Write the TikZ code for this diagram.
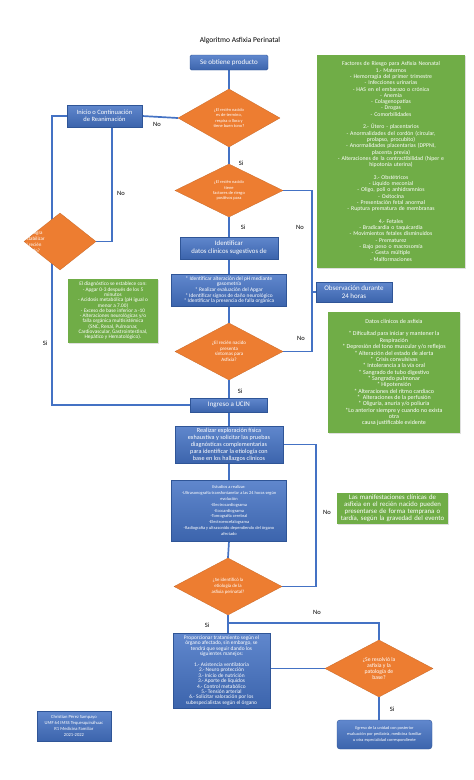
\documentclass[tikz,border=0pt]{standalone}
\usepackage{fontspec}
\setmainfont{Carlito}
\usetikzlibrary{positioning}
\usetikzlibrary{shapes.geometric}
\usetikzlibrary{backgrounds}
\usetikzlibrary{shadows}

\definecolor{azul}{RGB}{68,114,196}
\definecolor{azulosc}{RGB}{47,85,151}
\definecolor{naranja}{RGB}{237,125,49}
\definecolor{verde}{RGB}{112,173,71}
\newcommand{\fs}[2]{\fontsize{#1}{#2}\selectfont}

\begin{document}
\begin{tikzpicture}[
            x = 1pt,
            y = -1pt,
            caja/.style = {
                rectangle,
                draw = azulosc,
                line width = 0.4pt,
                top color = azul!85!white,
                bottom color = azul!88!black,
                text = white,
                align = center,
                inner sep = 1pt
            },
            rombo/.style = {
                diamond,
                fill = naranja,
                draw = naranja!85!black,
                line width = 0.3pt,
                text = white,
                align = center,
                inner sep = 0pt,
                aspect = 1.9
            },
            verdecaja/.style = {
                rectangle,
                fill = verde,
                text = white,
                align = center,
                inner sep = 1pt,
                drop shadow = {opacity = 0.25, shadow xshift = 1pt, shadow yshift = -1pt}
            },
            linea/.style = {
                draw = azul,
                line width = 1.7pt
            },
            etiqueta/.style = {
                font = \fs{6.5}{7},
                inner sep = 0pt
            }
            ]
            \useasboundingbox (0,0) rectangle (474,780);

            \node[font=\fs{7.5}{9}] (titulo) at (240,41) {Algoritmo Asfixia Perinatal};
            \node[caja, rounded corners=1.5pt, minimum width=78pt, minimum height=15pt, font=\fs{7}{8}] (producto) at (229,62.5) {Se obtiene producto};

            % columna central
            \node[rombo, minimum width=102pt, minimum height=58pt, font=\fs{4.4}{5.3}] (rombo1) at (229,118) {¿El recién nacido\\es de termino,\\respira o llora y\\tiene buen tono?};
            \node[rombo, minimum width=108pt, minimum height=53pt, font=\fs{4.4}{5.3}] (rombo2) at (229,190.5) {¿El recién nacido\\tiene\\factores de riesgo\\positivos para};
            \node[caja, minimum width=98pt, minimum height=22pt, font=\fs{6.8}{7.7}] (ident) at (229,248) {Identificar\\datos clínicos sugestivos de};
            \node[caja, minimum width=115pt, minimum height=32pt, font=\fs{5.4}{5.7}] (ph) at (229,290) {* Identificar alteración del pH mediante\\gasometría\\* Realizar evaluación del Apgar\\* Identificar signos de daño neurológico\\* Identificar la presencia de falla orgánica};
            \node[rombo, minimum width=108pt, minimum height=57pt, font=\fs{5}{5.5}] (rombo3) at (229,351.5) {¿El recién nacido\\presenta\\síntomas para\\Asfixia?};
            \node[caja, minimum width=77pt, minimum height=14pt, font=\fs{7}{8}] (ingreso) at (229,405) {Ingreso a UCIN};
            \node[caja, minimum width=108pt, minimum height=37pt, font=\fs{6.2}{7}] (realizar) at (229,444.5) {Realizar exploración física\\exhaustiva y solicitar las pruebas\\diagnósticas complementarias\\para identificar la etiología con\\base en los hallazgos clínicos};
            \node[caja, minimum width=115pt, minimum height=61pt, font=\fs{4.4}{5.8}] (estudios) at (229,510.5) {Estudios a realizar:\\-Ultrasonografía transfontanelar a las 24 horas según\\evolución\\-Electrocardiograma\\-Ecocardiograma\\-Tomografía cerebral\\-Electroencefalograma\\-Radiografía y ultrasonido dependiendo del órgano\\afectado};
            \node[rombo, minimum width=108pt, minimum height=57pt, font=\fs{4.8}{6}] (rombo4) at (228,586.5) {¿Se identificó la\\etiología de la\\asfixia perinatal?};
            \node[caja, minimum width=97pt, minimum height=75pt, font=\fs{5.4}{5.4}] (trat) at (221.5,670.5) {Proporcionar tratamiento según el\\órgano afectado, sin embargo, se\\tendrá que seguir dando los\\siguientes manejos:\\[5.4pt]1.- Asistencia ventilatoria\\2.- Neuro protección\\3.- Inicio de nutrición\\3.- Aporte de líquidos\\4.- Control metabólico\\5.- Tensión arterial\\6.- Solicitar valoración por los\\subespecialistas según el órgano};
            \node[rombo, minimum width=108pt, minimum height=57pt, font=\fs{5.7}{6.3}] (rombo5) at (379,668.5) {¿Se resolvió la\\asfixia y la\\patología de\\base?};
            \node[caja, rounded corners=3pt, minimum width=95pt, minimum height=29pt, font=\fs{4.3}{6.3}] (egreso) at (384.5,734.5) {Egreso de la unidad con posterior\\evaluación por pediatría, medicina familiar\\u otra especialidad correspondiente};

            % lado izquierdo
            \node[caja, minimum width=75pt, minimum height=22pt, font=\fs{6.5}{7.3}] (inicio) at (104.5,116) {Inicio o Continuación\\de Reanimación};
            \node[rombo, aspect=1.23, minimum width=72pt, minimum height=57pt] (rombo0) at (60,241.5) {};
            \node[anchor=west, align=left, text=white, font=\fs{5}{6}, inner sep=0pt] (logra) at (24,242) {¿Se logra\\estabilizar\\al recién\\nacido?};
            \node[verdecaja, minimum width=90pt, minimum height=64pt, font=\fs{5.3}{5.3}] (diag) at (113,311) {El diagnóstico se establece con:\\- Apgar 0-3 después de los 5\\minutos\\- Acidosis metabólica (pH igual o\\menor a 7.00)\\- Exceso de base inferior a -10\\- Alteraciones neurológicas y/o\\falla orgánica multisistémica\\(SNC, Renal, Pulmonar,\\Cardiovascular, Gastrointestinal,\\Hepático y Hematológico).};
            \node[caja, minimum width=74pt, minimum height=30pt, font=\fs{4.6}{6}] (autor) at (74,726) {Christian Pérez Sampayo\\UMF 64 IMSS Tequesquináhuac\\R1 Medicina Familiar\\2021-2022};

            % lado derecho
            \node[verdecaja, text width=146pt, minimum height=213pt, font=\fs{5.8}{6.3}] (factores) at (391,161.5) {Factores de Riesgo para Asfixia Neonatal\\1.- Maternos\\- Hemorragia del primer trimestre\\- Infecciones urinarias\\- HAS en el embarazo o crónica\\- Anemia\\- Colagenopatías\\- Drogas\\- Comorbilidades\\[6.3pt]2.- Útero - placentarios\\- Anormalidades del cordón (circular,\\prolapso, procubito)\\- Anormalidades placentarias (DPPNI,\\placenta previa)\\- Alteraciones de la contractibilidad (hiper e\\hipotonia uterina)\\[6.3pt]3.- Obstétricos\\- Líquido meconial\\- Oligo, poli o anhidramnios\\- Oxitocina\\- Presentación fetal anormal\\- Ruptura prematura de membranas\\[6.3pt]4.- Fetales\\- Bradicardia o taquicardia\\- Movimientos fetales disminuidos\\- Prematurez\\- Bajo peso o macrosomía\\- Gesta múltiple\\- Malformaciones};
            \node[caja, minimum width=76pt, minimum height=20pt, font=\fs{7}{8}] (observ) at (354,292) {Observación durante\\24 horas};
            \node[verdecaja, minimum width=132pt, minimum height=121pt, font=\fs{6}{6.35}] (datos) at (394,372.5) {Datos clínicos de asfixia\\[6.35pt]* Dificultad para iniciar y mantener la\\Respiración\\* Depresión del tono muscular y/o reflejos\\* Alteración del estado de alerta\\*\ \ Crisis convulsivas\\* Intolerancia a la vía oral\\* Sangrado de tubo digestivo\\* Sangrado pulmonar\\* Hipotensión\\* Alteraciones del ritmo cardiaco\\*\ \ Alteraciones de la perfusión\\* Oliguria, anuria y/o poliuria\\*Lo anterior siempre y cuando no exista\\otra\\causa justificable evidente};
            \node[verdecaja, text width=109pt, minimum height=31pt, font=\fs{6.8}{7}] (manif) at (392.5,508.5) {Las manifestaciones clínicas de\\asfixia en el recién nacido pueden\\presentarse de forma temprana o\\tardía, según la gravedad del evento};

            % etiquetas
            \node[etiqueta] (no1) at (157,124) {No};
            \node[etiqueta] (si1) at (241,163) {Si};
            \node[etiqueta] (no0) at (121,193) {No};
            \node[etiqueta] (si0) at (45,343) {Si};
            \node[etiqueta] (no2) at (300,227) {No};
            \node[etiqueta] (si2) at (243,227) {Si};
            \node[etiqueta] (no3) at (301,338) {No};
            \node[etiqueta] (si3) at (240,391) {Si};
            \node[etiqueta] (no4) at (327,512) {No};
            \node[etiqueta] (si4) at (207,625) {Si};
            \node[etiqueta] (no5) at (317,612) {No};
            \node[etiqueta] (si5) at (392,709) {Si};

            \coordinate (izq) at (52,0);
            \coordinate (der) at (312,0);
            \coordinate (dern) at (316,0);
            \coordinate (rama) at (0,623);

            \begin{scope}[on background layer]
            \fill[white] (0,0) rectangle (474,780);
            \draw[linea] (producto.south) -- (rombo1.north);
            \draw[linea] (rombo1.west) -- (inicio.east);
            \draw[linea] (inicio.west) -| (izq |- ingreso.west) -- (ingreso.west);
            \draw[linea] (rombo0.east) -| ([xshift=7.5pt]inicio.south);
            \draw[linea] (rombo1.south) -- (rombo2.north);
            \draw[linea] (rombo2.east) -| (der |- rombo3.east) -- (rombo3.east);
            \draw[linea] (der |- observ.west) -- (observ.west);
            \draw[linea] (rombo2.south) -- (ident.north);
            \draw[linea] (ident.south) -- (ph.north);
            \draw[linea] (ph.south) -- (rombo3.north);
            \draw[linea] (rombo3.south) -- (ingreso.north);
            \draw[linea] (ingreso.south) -- (realizar.north);
            \draw[linea] (realizar.south) -- (estudios.north);
            \draw[linea] (estudios.south) -- (rombo4.north);
            \draw[linea] (realizar.east) -| (dern |- rombo4.east) -- (rombo4.east);
            \draw[linea] (rombo4.south) -- (rombo4.south |- trat.north);
            \draw[linea] (rombo4.south |- rama) -| (rombo5.north);
            \draw[linea] (rombo5.west) -- (rombo5.west -| trat.east);
            \draw[linea] (rombo5.south) -- (rombo5.south |- egreso.north);
            \end{scope}
        \end{tikzpicture}
\end{document}
